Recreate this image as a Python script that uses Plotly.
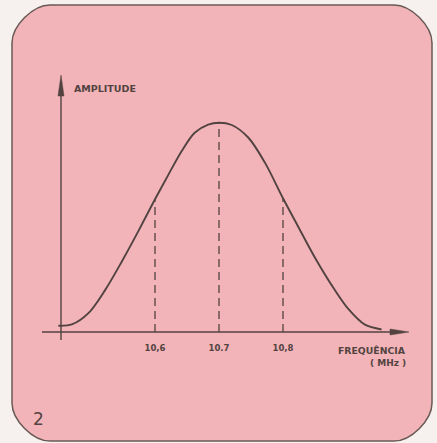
import plotly.graph_objects as go

# ---- data ----
freq_mhz = [10.449, 10.470, 10.496, 10.522, 10.548, 10.574, 10.600, 10.621, 10.642,
            10.662, 10.683, 10.700, 10.720, 10.746, 10.772, 10.800, 10.824, 10.850,
            10.880, 10.902, 10.928, 10.954]
amplitude = [0.030, 0.036, 0.090, 0.200, 0.336, 0.482, 0.634, 0.752, 0.866,
             0.952, 0.991, 1.000, 0.989, 0.928, 0.808, 0.639, 0.502, 0.355,
             0.205, 0.110, 0.035, 0.012]
marker_freqs = [10.6, 10.7, 10.8]
marker_amps = [0.634, 1.000, 0.639]
tick_labels = ["10,6", "10.7", "10,8"]

W, H = 437, 443
INK = "#524341"
PINK = "#f2b4b8"
BG = "#f6f1ee"

# axis scale: pixels per unit
PX_X = 640.0
PX_Y = 209.3
X0_PX, X0_VAL = 155.0, 10.6
Y0_PX = 332.0
XMIN = X0_VAL - X0_PX / PX_X
XMAX = XMIN + W / PX_X
YMAX = Y0_PX / PX_Y
YMIN = YMAX - H / PX_Y


def dx(px):
    return X0_VAL + (px - X0_PX) / PX_X


def dy(py):
    return (Y0_PX - py) / PX_Y


fig = go.Figure()

# card background (rounded rectangle)
L, R, T, B, r = 12, 432, 5, 441, 38
k = 0.45 * r
def P(px, py):
    return f"{dx(px):.5f},{dy(py):.5f}"
card = (f"M {P(L + r, T)} L {P(R - r, T)} C {P(R - r + k, T)} {P(R, T + r - k)} {P(R, T + r)} "
        f"L {P(R, B - r)} C {P(R, B - r + k)} {P(R - r + k, B)} {P(R - r, B)} "
        f"L {P(L + r, B)} C {P(L + r - k, B)} {P(L, B - r + k)} {P(L, B - r)} "
        f"L {P(L, T + r)} C {P(L, T + r - k)} {P(L + r - k, T)} {P(L + r, T)} Z")
shapes = [dict(type="path", path=card, xref="x", yref="y", fillcolor=PINK,
               line=dict(color="#6a5a55", width=1.5), layer="below")]

# axes lines with arrows
shapes.append(dict(type="line", xref="x", yref="y", x0=dx(61), x1=dx(61), y0=dy(340), y1=dy(92),
                   line=dict(color=INK, width=1.4)))
shapes.append(dict(type="path", xref="x", yref="y",
                   path=f"M {P(61, 75)} L {P(64, 96)} L {P(58, 96)} Z",
                   fillcolor=INK, line=dict(color=INK, width=0.5)))
shapes.append(dict(type="line", xref="x", yref="y", x0=dx(42), x1=dx(392), y0=0, y1=0,
                   line=dict(color=INK, width=1.4)))
shapes.append(dict(type="path", xref="x", yref="y",
                   path=f"M {P(409, 332)} L {P(390, 329)} L {P(390, 335)} Z",
                   fillcolor=INK, line=dict(color=INK, width=0.5)))

# dashed verticals from curve to axis
for f, a in zip(marker_freqs, marker_amps):
    fig.add_trace(go.Scatter(x=[f, f], y=[0, a], mode="lines",
                             line=dict(color=INK, width=1.3, dash="8px,5px"),
                             hoverinfo="skip", showlegend=False))

# bell curve
fig.add_trace(go.Scatter(x=freq_mhz, y=amplitude, mode="lines",
                         line=dict(color=INK, width=1.9, shape="spline", smoothing=0.9),
                         showlegend=False))

annotations = [
    dict(text="<b>AMPLITUDE</b>", x=dx(72), y=dy(88), xref="x", yref="y",
         xanchor="left", yanchor="middle", showarrow=False,
         font=dict(family="DejaVu Sans", size=9.5, color=INK)),
    dict(text="<b>FREQUÊNCIA</b>", x=dx(408), y=dy(350), xref="x", yref="y",
         xanchor="right", yanchor="middle", showarrow=False,
         font=dict(family="DejaVu Sans", size=9.3, color=INK)),
    dict(text="<b>( MHz )</b>", x=dx(408), y=dy(363), xref="x", yref="y",
         xanchor="right", yanchor="middle", showarrow=False,
         font=dict(family="DejaVu Sans", size=9, color=INK)),
    dict(text="2", x=dx(38), y=dy(419), xref="x", yref="y",
         xanchor="center", yanchor="middle", showarrow=False,
         font=dict(family="DejaVu Sans", size=17, color=INK)),
]

fig.update_layout(
    width=W, height=H, autosize=False,
    margin=dict(l=0, r=0, t=0, b=0),
    paper_bgcolor=BG, plot_bgcolor=BG,
    shapes=shapes, annotations=annotations,
    xaxis=dict(range=[XMIN, XMAX], showgrid=False, zeroline=False, showline=False,
               anchor="free", position=1 - Y0_PX / H,
               tickvals=marker_freqs, ticktext=[f"<b>{t}</b>" for t in tick_labels],
               ticks="outside", ticklen=8, tickcolor="rgba(0,0,0,0)",
               tickfont=dict(family="DejaVu Sans", size=8.5, color=INK)),
    yaxis=dict(range=[YMIN, YMAX], showgrid=False, zeroline=False, showline=False,
               showticklabels=False, ticks=""),
)

fig.write_html("out.html", config={"displayModeBar": False},
               post_script="document.body.style.margin='0';document.body.style.overflow='hidden';")
